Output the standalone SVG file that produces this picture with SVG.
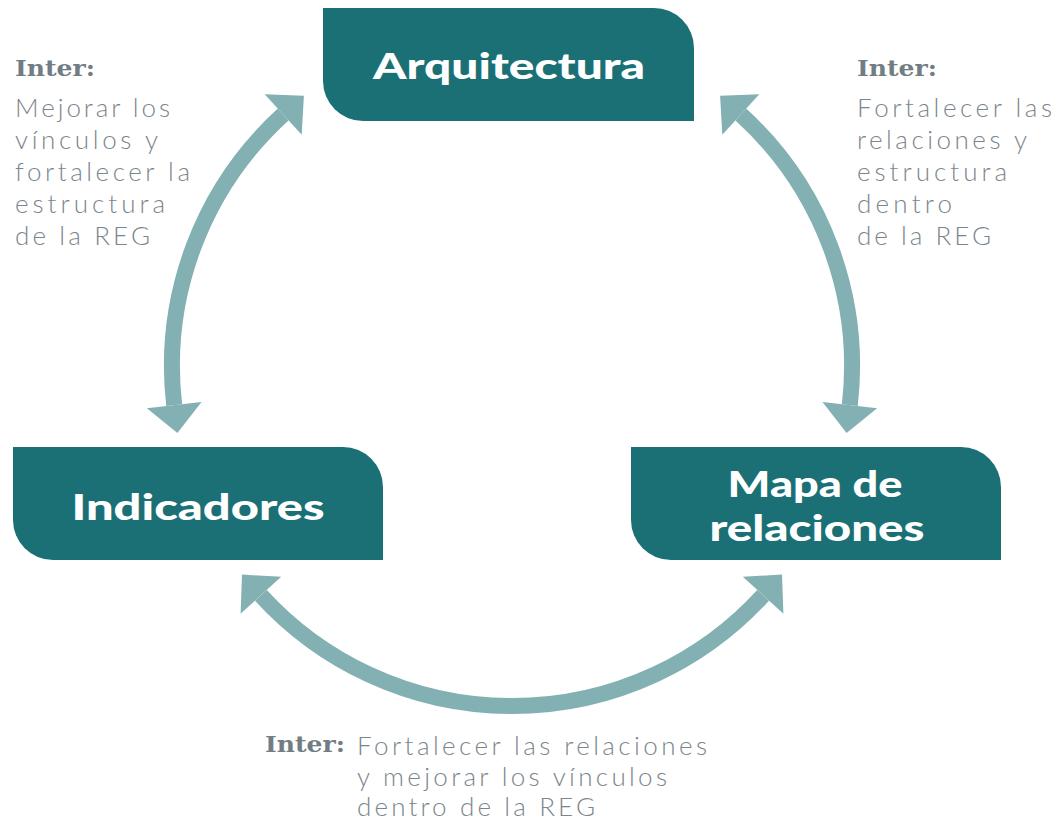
<svg xmlns="http://www.w3.org/2000/svg" width="1057" height="823" viewBox="0 0 1057 823">
<style>
.node{fill:#1b7076;}
.lbl{fill:#ffffff;font-family:"Lato","Roboto","Liberation Sans",sans-serif;font-weight:900;font-size:36px;text-anchor:middle;}
.shaft{fill:none;stroke:#82b0b3;stroke-width:16;}
.head{fill:#82b0b3;}
.inter{fill:#727c83;font-family:"DejaVu Serif","Liberation Serif",serif;font-weight:bold;font-size:22px;}
.body{fill:#7b858c;font-family:"Lato","Open Sans","Liberation Sans",sans-serif;font-weight:300;font-size:26px;}
</style>
<rect width="1057" height="823" fill="#ffffff"/>
<g id="connectors">
  <path class="shaft" d="M283.2,114.5 A340,340 0 0 0 174.2,405.1"/>
  <polygon class="head" points="303.9,95.7 264.7,94.2 301.7,134.8"/>
  <polygon class="head" points="177.4,432.9 146.9,408.3 201.5,401.9"/>
  <path class="shaft" d="M740.8,114.5 A340,340 0 0 1 849.8,405.1"/>
  <polygon class="head" points="720.1,95.7 759.3,94.2 722.3,134.8"/>
  <polygon class="head" points="846.6,432.9 877.1,408.3 822.5,401.9"/>
  <path class="shaft" d="M260.9,595.3 A340,340 0 0 0 763.1,595.3"/>
  <polygon class="head" points="242.0,574.6 240.6,613.8 281.2,576.8"/>
  <polygon class="head" points="782.0,574.6 783.4,613.8 742.8,576.8"/>
</g>
<g id="node-arquitectura">
  <path class="node" d="M323,8 H654 A40,40 0 0 1 694,48 V121 H363 A40,40 0 0 1 323,81 Z"/>
  <text class="lbl" x="509" y="79" textLength="272" lengthAdjust="spacingAndGlyphs">Arquitectura</text>
</g>
<g id="node-indicadores">
  <path class="node" d="M13,447 H343 A40,40 0 0 1 383,487 V560 H53 A40,40 0 0 1 13,520 Z"/>
  <text class="lbl" x="198" y="520" textLength="253" lengthAdjust="spacingAndGlyphs">Indicadores</text>
</g>
<g id="node-mapa">
  <path class="node" d="M631,447 H961 A40,40 0 0 1 1001,487 V560 H671 A40,40 0 0 1 631,520 Z"/>
  <text class="lbl" x="815" y="497" textLength="175" lengthAdjust="spacingAndGlyphs">Mapa de</text>
  <text class="lbl" x="817" y="541" textLength="215" lengthAdjust="spacingAndGlyphs">relaciones</text>
</g>
<g id="label-left">
  <text class="inter" x="15" y="76" textLength="80" lengthAdjust="spacingAndGlyphs">Inter:</text>
  <text class="body" x="15" y="117" textLength="155">Mejorar los</text>
  <text class="body" x="15" y="149" textLength="143">vínculos y</text>
  <text class="body" x="15" y="181" textLength="175">fortalecer la</text>
  <text class="body" x="15" y="213" textLength="150">estructura</text>
  <text class="body" x="15" y="245" textLength="135">de la REG</text>
</g>
<g id="label-right">
  <text class="inter" x="857" y="76" textLength="80" lengthAdjust="spacingAndGlyphs">Inter:</text>
  <text class="body" x="857" y="117" textLength="195">Fortalecer las</text>
  <text class="body" x="857" y="149" textLength="170">relaciones y</text>
  <text class="body" x="857" y="181" textLength="150">estructura</text>
  <text class="body" x="857" y="213" textLength="95">dentro</text>
  <text class="body" x="857" y="245" textLength="134">de la REG</text>
</g>
<g id="label-bottom">
  <text class="inter" x="265" y="752" textLength="80" lengthAdjust="spacingAndGlyphs">Inter:</text>
  <text class="body" x="357" y="755" textLength="350">Fortalecer las relaciones</text>
  <text class="body" x="357" y="786" textLength="310">y mejorar los vínculos</text>
  <text class="body" x="357" y="816" textLength="238">dentro de la REG</text>
</g>
</svg>
